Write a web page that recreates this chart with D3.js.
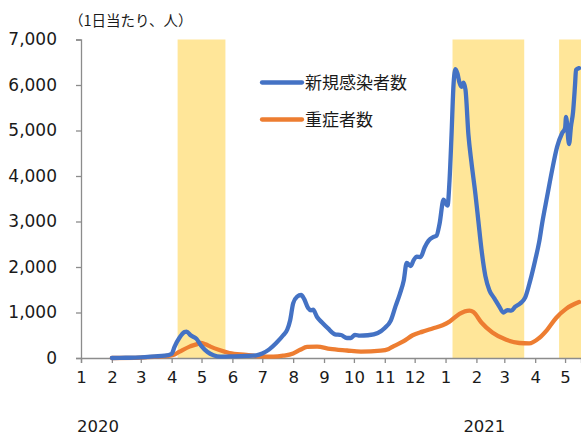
<!DOCTYPE html>
<html>
<head>
<meta charset="utf-8">
<script src="https://cdn.jsdelivr.net/npm/d3@7"></script>
<style>
  html, body { margin: 0; padding: 0; background: #fff; }
  svg { display: block; }
  text { fill: #1a1a1a; }
</style>
</head>
<body>
<svg id="chart" width="581" height="435"></svg>
<script>
// New infections (7-day average) per day
const newCaseDates = ["2020-02-01","2020-02-15","2020-03-01","2020-03-15","2020-03-25","2020-04-01","2020-04-04","2020-04-09","2020-04-14","2020-04-16","2020-04-20","2020-04-26","2020-05-01","2020-05-07","2020-05-13","2020-05-20","2020-06-01","2020-06-15","2020-06-25","2020-07-01","2020-07-08","2020-07-15","2020-07-22","2020-07-26","2020-07-29","2020-08-01","2020-08-05","2020-08-09","2020-08-12","2020-08-16","2020-08-19","2020-08-21","2020-08-25","2020-08-30","2020-09-05","2020-09-12","2020-09-18","2020-09-24","2020-09-28","2020-10-02","2020-10-07","2020-10-15","2020-10-25","2020-11-01","2020-11-07","2020-11-12","2020-11-16","2020-11-20","2020-11-23","2020-11-27","2020-11-30","2020-12-03","2020-12-07","2020-12-11","2020-12-15","2020-12-20","2020-12-23","2020-12-26","2020-12-30","2021-01-01","2021-01-03","2021-01-05","2021-01-07","2021-01-09","2021-01-11","2021-01-13","2021-01-15","2021-01-17","2021-01-19","2021-01-21","2021-01-24","2021-01-27","2021-01-31","2021-02-03","2021-02-06","2021-02-10","2021-02-14","2021-02-19","2021-02-24","2021-02-28","2021-03-04","2021-03-08","2021-03-12","2021-03-17","2021-03-22","2021-03-27","2021-04-01","2021-04-05","2021-04-08","2021-04-13","2021-04-18","2021-04-23","2021-04-28","2021-05-01","2021-05-02","2021-05-05","2021-05-07","2021-05-09","2021-05-11","2021-05-12","2021-05-15"];
const newCaseValues = [0,5,15,35,50,90,250,450,570,580,500,420,260,130,60,30,35,45,60,100,190,330,500,620,830,1200,1350,1385,1300,1100,1050,1060,900,780,650,520,505,440,440,510,490,500,550,660,820,1150,1400,1700,2090,2020,2150,2230,2220,2430,2580,2660,2690,2950,3480,3400,3350,3900,4900,6000,6350,6250,6050,5960,6050,5900,4900,4300,3600,3000,2400,1800,1490,1310,1130,1000,1050,1040,1130,1200,1330,1700,2150,2550,2960,3550,4130,4640,4940,5050,5300,4700,5100,5400,6000,6330,6370];

// Severe cases
const severeDates = ["2020-02-01","2020-03-01","2020-03-25","2020-04-02","2020-04-09","2020-04-19","2020-04-26","2020-04-30","2020-05-05","2020-05-10","2020-05-19","2020-05-29","2020-06-15","2020-06-29","2020-07-12","2020-07-22","2020-08-01","2020-08-08","2020-08-15","2020-08-25","2020-09-07","2020-09-24","2020-10-08","2020-10-28","2020-11-05","2020-11-10","2020-11-20","2020-11-29","2020-12-09","2020-12-19","2020-12-29","2021-01-05","2021-01-15","2021-01-25","2021-01-29","2021-02-06","2021-02-17","2021-03-03","2021-03-16","2021-03-26","2021-04-05","2021-04-13","2021-04-22","2021-05-02","2021-05-15"];
const severeValues = [0,10,40,60,140,250,300,330,300,250,175,110,70,35,30,50,100,180,245,250,200,165,140,160,200,260,370,500,580,650,720,800,970,1040,1010,780,560,400,330,320,440,620,880,1080,1230];

// State of emergency periods
const emergencyStarts = ["2020-04-07","2021-01-08","2021-04-25"];
const emergencyEnds   = ["2020-05-25","2021-03-21","2021-05-17"];

const yTicks = [0,1000,2000,3000,4000,5000,6000,7000];
const yearLabels = ["2020","2021"];
const yearAnchors = ["2020-01-18","2021-02-09"];

const seriesNames = ["新規感染者数","重症者数"];
const seriesColors = ["#4472C4","#ED7D31"];
const unitLabel = "（1日当たり、人）";

const parse = d3.timeParse("%Y-%m-%d");
const svg = d3.select("#chart");

const x = d3.scaleTime()
  .domain([parse("2020-01-01"), parse("2021-05-17")])
  .range([81, 581]);
const y = d3.scaleLinear().domain([0, 7000]).range([358, 39.5]);

// shaded periods
svg.append("g").selectAll("rect")
  .data(emergencyStarts.map((s, i) => [parse(s), parse(emergencyEnds[i])]))
  .join("rect")
  .attr("x", d => x(d[0]))
  .attr("width", d => x(d[1]) - x(d[0]))
  .attr("y", y(7000))
  .attr("height", y(0) - y(7000))
  .attr("fill", "#FFE699");

// y axis
const yAxis = svg.append("g")
  .attr("transform", `translate(${x.range()[0]},0)`)
  .call(d3.axisLeft(y).tickValues(yTicks).tickSize(5).tickPadding(19)
    .tickFormat(d3.format(",")));
yAxis.select(".domain").attr("stroke", "#8c8c8c").attr("stroke-width", 1.3);
yAxis.selectAll(".tick line").attr("stroke", "#8c8c8c").attr("stroke-width", 1.3);
yAxis.selectAll(".tick text")
  .attr("font-family", "DejaVu Sans, Verdana, sans-serif")
  .attr("font-size", 17).attr("fill", "#1a1a1a");

// x axis
const xAxis = svg.append("g")
  .attr("transform", `translate(0,${y(0)})`)
  .call(d3.axisBottom(x)
    .ticks(d3.timeMonth.every(1))
    .tickSize(5).tickPadding(8)
    .tickFormat(d3.timeFormat("%-m")));
xAxis.select(".domain").attr("stroke", "#8c8c8c").attr("stroke-width", 1.3);
xAxis.selectAll(".tick line").attr("stroke", "#8c8c8c").attr("stroke-width", 1.3);
xAxis.selectAll(".tick text")
  .attr("font-family", "DejaVu Sans, Verdana, sans-serif")
  .attr("font-size", 16.5).attr("fill", "#1a1a1a");

// year labels
svg.append("g").selectAll("text")
  .data(yearLabels)
  .join("text")
  .attr("x", (d, i) => x(parse(yearAnchors[i])))
  .attr("y", 432)
  .attr("text-anchor", "middle")
  .attr("font-family", "DejaVu Sans, Verdana, sans-serif")
  .attr("font-size", 16.5)
  .text(d => d);

// unit label
svg.append("text")
  .attr("x", 69).attr("y", 26)
  .attr("font-family", "Noto Sans CJK JP, sans-serif")
  .attr("font-size", 14.5)
  .text(unitLabel);

// lines
const line = d3.line()
  .x(d => x(d[0]))
  .y(d => y(d[1]))
  .curve(d3.curveMonotoneX);

const series = [
  newCaseDates.map((d, i) => [parse(d), newCaseValues[i]]),
  severeDates.map((d, i) => [parse(d), severeValues[i]])
];

// severe first so new-case line sits on top
[1, 0].forEach(i => {
  svg.append("path")
    .datum(series[i])
    .attr("fill", "none")
    .attr("stroke", seriesColors[i])
    .attr("stroke-width", 4.3)
    .attr("stroke-linejoin", "round")
    .attr("stroke-linecap", "round")
    .attr("d", line);
});

// legend
const legend = svg.append("g").selectAll("g")
  .data(seriesNames)
  .join("g")
  .attr("transform", (d, i) => `translate(262,${82.5 + i * 37})`);
legend.append("line")
  .attr("x1", 0).attr("x2", 40)
  .attr("stroke", (d, i) => seriesColors[i])
  .attr("stroke-width", 4.3)
  .attr("stroke-linecap", "round");
legend.append("text")
  .attr("x", 43).attr("dy", "0.36em")
  .attr("font-family", "Noto Sans CJK JP, sans-serif")
  .attr("font-size", 17)
  .text(d => d);
</script>
</body>
</html>
